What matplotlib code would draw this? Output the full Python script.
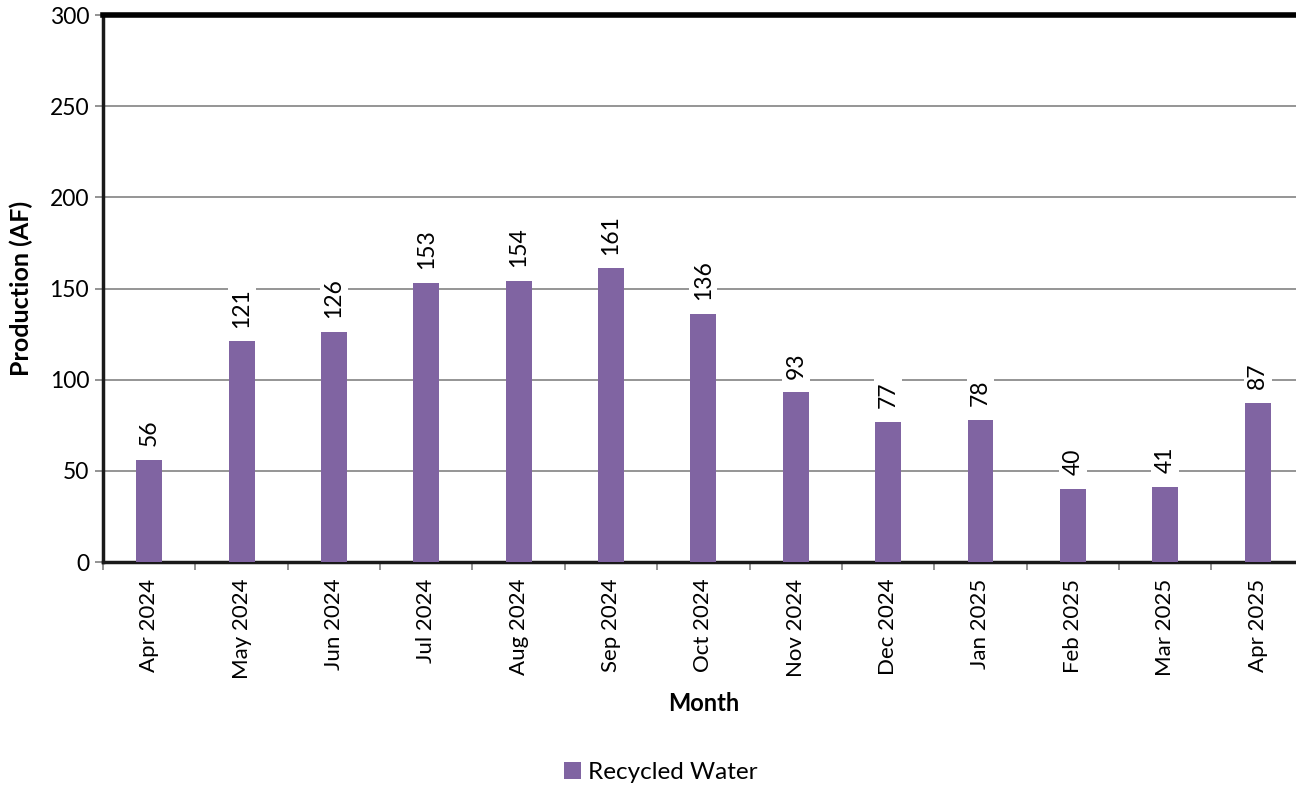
import matplotlib
matplotlib.use("Agg")
import matplotlib.pyplot as plt
import numpy as np

months = ["Apr 2024", "May 2024", "Jun 2024", "Jul 2024", "Aug 2024", "Sep 2024",
          "Oct 2024", "Nov 2024", "Dec 2024", "Jan 2025", "Feb 2025", "Mar 2025", "Apr 2025"]
recycled = [56, 121, 126, 153, 154, 161, 136, 93, 77, 78, 40, 41, 87]

plt.rcParams["font.family"] = ["Lato", "DejaVu Sans"]

fig = plt.figure(figsize=(12.96, 7.92), dpi=100)
ax = fig.add_axes([0.0795, 0.2904, 0.9265, 0.6906])

x = np.arange(len(months))
bars = ax.bar(x, recycled, width=0.28, color="#8064A2", label="Recycled Water", zorder=3)

ax.set_xlim(-0.5, len(months) - 0.5)
ax.set_ylim(0, 300)
ax.set_yticks(range(0, 301, 50))
ax.yaxis.grid(True, color="#8c8c8c", linewidth=1.3, zorder=0)

ax.set_xticks(x)
ax.set_xticklabels(months, rotation=90, fontsize=16)
ax.set_xticks(np.arange(-0.5, len(months), 1), minor=True)
ax.tick_params(axis="x", which="major", length=0, pad=12)
ax.tick_params(axis="x", which="minor", length=6, width=1.2, color="#808080")
ax.tick_params(axis="y", length=6, width=1.2, color="#808080", labelsize=16.5, pad=4)

ax.spines["right"].set_visible(False)
ax.spines["top"].set_linewidth(4)
ax.spines["top"].set_color("black")
ax.spines["left"].set_linewidth(2.5)
ax.spines["left"].set_color("#1a1a1a")
ax.spines["bottom"].set_linewidth(2.5)
ax.spines["bottom"].set_color("#1a1a1a")

for xi, v in zip(x, recycled):
    ax.annotate(str(v), (xi, v), xytext=(0, 10), textcoords="offset points",
                rotation=90, ha="center", va="bottom", fontsize=16.5, zorder=4,
                bbox=dict(boxstyle="square,pad=0.15", fc="white", ec="none"))

ax.set_xlabel("Month", fontsize=17, fontweight="bold", labelpad=9)
ax.set_ylabel("Production (AF)", fontsize=18, fontweight="bold", labelpad=12)

fig.legend(loc="center", bbox_to_anchor=(0.51, 0.025), frameon=False, fontsize=17.5,
           handlelength=0.7, handleheight=0.7, handletextpad=0.3)

fig.savefig("out.png", dpi=100)
